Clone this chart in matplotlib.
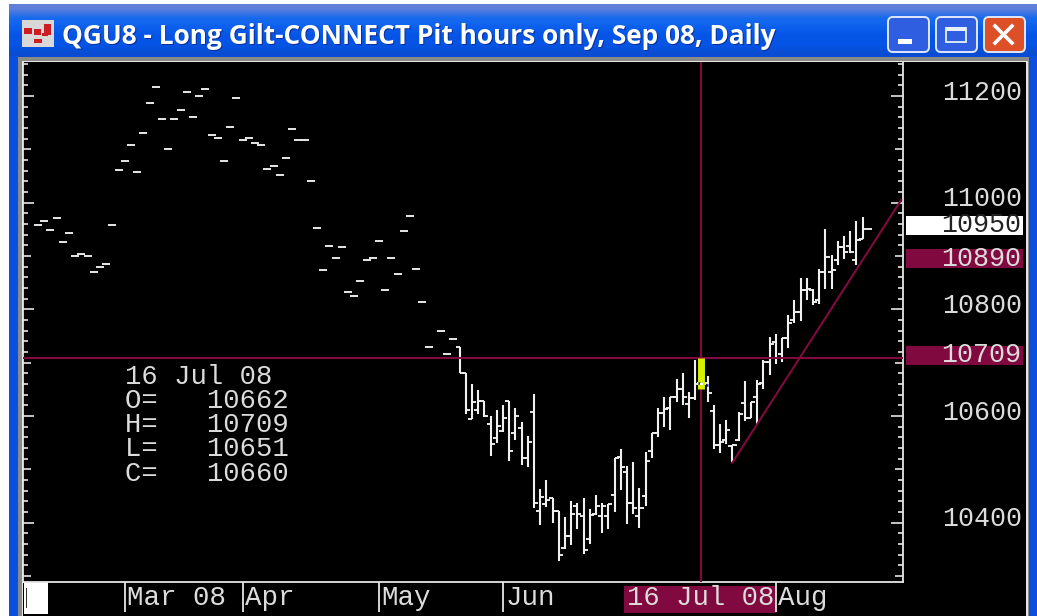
import numpy as np
import matplotlib
matplotlib.use("Agg")
import matplotlib.pyplot as plt
from matplotlib.patches import Rectangle, FancyBboxPatch
from matplotlib.ticker import FixedLocator

# ---------- data ----------
nan = float("nan")
flat_prices = [10959, 10966, 10949, 10972, 10926, 10943, 10900, 10903, 10900, 10870,
               10880, 10886, 10959, 11061, 11078, 11108, 11058, 11131, 11187, 11217,
               11157, 11101, 11157, 11174, 11207, 11161, 11200, 11214, 11127, 11121,
               11078, 11141, 11197, 11117, 11121, 11111, 11108, 11064, 11068, 11051,
               11084, 11138, 11117, 11117, 11041, 10952, 10873, 10919, 10896, 10916,
               10833, 10826, 10853, 10893, 10896, 10929, 10836, 10896, 10866, 10946,
               10975, 10876, 10813, 10730, nan, 10760, 10717, 10744]
opens = [10730, 10680, 10594, 10611, 10628, 10585, 10558, 10572, 10628, 10568,
         10578, 10521, 10607, 10423, 10435, 10446, 10423, 10352, 10376, 10431,
         10413, 10369, 10416, 10413, 10413, 10452, 10524, 10496, 10437, 10413,
         10451, 10535, 10568, 10606, 10615, 10636, 10650, 10623, 10633, 10662,
         10662, 10610, 10546, 10555, 10543, 10555, 10624, 10597, 10636, 10662,
         10702, 10738, 10716, 10746, 10780, 10796, 10836, 10836, 10817, 10871,
         10871, 10893, 10916, 10919, 10893, 10931]
highs = [10730, 10680, 10661, 10649, 10628, 10601, 10611, 10621, 10628, 10616,
         10588, 10563, 10641, 10463, 10480, 10446, 10423, 10410, 10440, 10438,
         10447, 10426, 10453, 10438, 10436, 10522, 10538, 10506, 10513, 10466,
         10533, 10569, 10615, 10635, 10636, 10669, 10681, 10646, 10706, 10709,
         10675, 10621, 10585, 10593, 10546, 10608, 10665, 10627, 10668, 10705,
         10748, 10754, 10746, 10790, 10818, 10859, 10859, 10839, 10875, 10950,
         10902, 10929, 10938, 10946, 10966, 10974]
lows = [10680, 10604, 10594, 10604, 10598, 10525, 10550, 10571, 10515, 10556,
        10508, 10505, 10428, 10395, 10429, 10399, 10329, 10350, 10358, 10388,
        10341, 10361, 10415, 10380, 10388, 10421, 10461, 10398, 10416, 10391,
        10432, 10521, 10561, 10579, 10574, 10627, 10621, 10596, 10630, 10651,
        10627, 10538, 10530, 10548, 10513, 10554, 10591, 10596, 10586, 10650,
        10677, 10698, 10702, 10727, 10774, 10779, 10818, 10808, 10811, 10838,
        10838, 10883, 10894, 10905, 10883, 10931]
closes = [10680, 10612, 10627, 10628, 10600, 10548, 10581, 10596, 10535, 10601,
          10521, 10552, 10438, 10449, 10443, 10423, 10340, 10376, 10416, 10416,
          10349, 10415, 10432, 10432, 10436, 10521, 10504, 10437, 10427, 10427,
          10516, 10569, 10605, 10613, 10636, 10650, 10636, 10633, 10661, 10660,
          10644, 10546, 10551, 10574, 10546, 10604, 10596, 10627, 10661, 10702,
          10736, 10708, 10746, 10774, 10796, 10836, 10838, 10814, 10871, 10899,
          10873, 10916, 10908, 10908, 10930, 10950]
price_labels = [11200, 11000, 10800, 10600, 10400]
tag_labels = [10950, 10890, 10709]
month_index = [14, 33, 55, 75, 119]
month_names = ["Mar 08", "Apr", "May", "Jun", "Aug"]
cursor_index = 107
cursor_price = 10709
cursor_date = "16 Jul 08"
cursor_rows = ["O=   10662", "H=   10709", "L=   10651", "C=   10660"]
trend_x = [112, 139.2]
trend_y = [10513, 11005]
title = "QGU8 - Long Gilt-CONNECT Pit hours only, Sep 08, Daily"

# ---------- figure and window chrome (pixel coordinates) ----------
W, H = 1037, 616
MAROON = "#800a40"
TXT = "#dcdcdc"
MONO = "Liberation Mono"
fig = plt.figure(figsize=(W / 100, H / 100), dpi=100, facecolor="white")
bg = fig.add_axes([0, 0, 1, 1], zorder=0)
bg.set_xlim(0, W)
bg.set_ylim(H, 0)
bg.axis("off")

grad = np.array([[0.38, 0.50, 0.85], [0.10, 0.42, 0.93], [0.05, 0.38, 0.93], [0.02, 0.33, 0.90],
                 [0.02, 0.33, 0.90], [0.04, 0.30, 0.82]])[:, None, :]
bg.imshow(grad, extent=(9, W, 58, 4), aspect="auto", interpolation="bilinear", zorder=1)
bg.set_xlim(0, W)
bg.set_ylim(H, 0)
bg.add_patch(Rectangle((9, 56), 9, H - 56, fc="#0a4fe0", ec="none", zorder=1))
bg.add_patch(Rectangle((1029, 56), 8, H - 56, fc="#0a4fe0", ec="none", zorder=1))
bg.add_patch(Rectangle((18, 57), 1011, H - 57, fc="#8a8a86", ec="none", zorder=1))
bg.add_patch(Rectangle((22, 61), 1006, H - 61, fc="#e6e6e6", ec="none", zorder=1))
bg.add_patch(Rectangle((23, 62), 1003, H - 62, fc="black", ec="none", zorder=2))

# icon
bg.add_patch(Rectangle((22, 20), 32, 27, fc="#d8d8d8", ec="none", zorder=3))
for (x0, y0, w0, h0) in [(24, 28, 8, 6), (34, 29, 7, 6), (44, 24, 7, 11), (34, 39, 8, 4), (42, 33, 6, 3)]:
    bg.add_patch(Rectangle((x0, y0), w0, h0, fc="#cc1d22", ec="none", zorder=4))

# title
bg.text(63, 37.5, title, color="#0a2f9a", fontsize=18.9, fontweight="bold", family="Open Sans",
        va="center", ha="left", zorder=4)
bg.text(62, 36.5, title, color="white", fontsize=18.9, fontweight="bold", family="Open Sans",
        va="center", ha="left", zorder=5)

# window buttons
for x0, col in [(887, "#2f5fe0"), (935, "#2f5fe0"), (983, "#dd4f26")]:
    bg.add_patch(FancyBboxPatch((x0 + 1, 17), 41, 35, boxstyle="round,pad=0,rounding_size=5",
                                fc=col, ec="#dfe8fb", lw=1.4, zorder=4))
bg.add_patch(Rectangle((898, 39), 14, 5, fc="white", ec="none", zorder=5))
bg.add_patch(Rectangle((946, 28), 20, 14, fc="none", ec="#e8f0ff", lw=1.3, zorder=5))
bg.add_patch(Rectangle((946, 27), 20, 3.5, fc="#e8f0ff", ec="none", zorder=5))
bg.plot([995, 1012], [26, 43], color="white", lw=2.6, zorder=5)
bg.plot([995, 1012], [43, 26], color="white", lw=2.6, zorder=5)

# price tags
for y0, col in [(216, "white"), (249, MAROON), (346, MAROON)]:
    bg.add_patch(Rectangle((906, y0), 117, 19, fc=col, ec="none", zorder=3))
# date strip
bg.add_patch(Rectangle((624, 586), 152, 27, fc=MAROON, ec="none", zorder=3))
bg.add_patch(Rectangle((24, 582), 24, 32, fc="white", ec="none", zorder=3))
bg.add_patch(Rectangle((25.5, 588), 1.6, 20, fc="#333333", ec="none", zorder=4))

# ---------- chart ----------
ax = fig.add_axes([23 / W, 1 - 582 / H, 880 / W, 520 / H], zorder=2)
ax.patch.set_alpha(0)
ax.set_xlim(-2.42, 139.5)
ax.set_ylim(10289, 11263.7)
for s in ax.spines.values():
    s.set_color("#e6e6e6")
    s.set_linewidth(1.3)
ax.spines["top"].set_visible(False)

ax.yaxis.set_major_locator(FixedLocator(np.arange(10300, 11300, 100)))
ax.yaxis.set_minor_locator(FixedLocator(np.arange(10300, 11270, 20)))
ax.tick_params(axis="y", which="both", left=True, right=True, direction="in",
               labelleft=False, labelright=False, color="#e6e6e6", width=1.2)
ax.tick_params(axis="y", which="minor", length=3.8)
ax.tick_params(axis="y", which="major", length=6)
for t, v in zip(ax.yaxis.get_major_ticks(), ax.yaxis.get_majorticklocs()):
    if int(v) % 200 == 0:
        t.tick1line.set_markersize(8)
        t.tick2line.set_markersize(8.5)

ax.set_xticks(month_index)
ax.set_xticklabels([""] * len(month_index))
ax.tick_params(axis="x", direction="out", length=21.5, width=1.3, color="#e6e6e6", pad=0)

n_flat = len(flat_prices)
xs_flat = np.arange(n_flat)
BAR = "#f0f0f0"
ax.hlines(flat_prices, xs_flat - 0.65, xs_flat + 0.65, color=BAR, lw=1.35, zorder=3)

xs = np.arange(n_flat, n_flat + len(opens))
ax.vlines(xs, lows, highs, color=BAR, lw=1.5, zorder=3)
ax.hlines(opens, xs - 0.65, xs, color=BAR, lw=1.35, zorder=3)
close_right = xs + 0.65
close_right[-1] = xs[-1] + 1.5
ax.hlines(closes, xs, close_right, color=BAR, lw=1.35, zorder=3)

# cursor and trend line
ax.axvline(cursor_index, color=MAROON, lw=1.5, zorder=4)
ax.axhline(cursor_price, color=MAROON, lw=1.5, zorder=4)
ax.plot(trend_x, trend_y, color=MAROON, lw=1.5, zorder=4)

# highlighted bar
i = cursor_index - n_flat
ax.vlines(cursor_index, lows[i], highs[i], color="#d6ee00", lw=5, zorder=5)
ax.hlines(opens[i], cursor_index - 0.6, cursor_index - 0.2, color="#1020d0", lw=1.8, zorder=6)
ax.hlines(closes[i] - 2, cursor_index + 0.7, cursor_index + 1.05, color="#1020d0", lw=1.8, zorder=6)
ax.hlines(closes[i], cursor_index - 0.2, cursor_index + 0.3, color="white", lw=1.5, zorder=6)

# price labels
ytrans = ax.get_yaxis_transform()
for v in price_labels:
    ax.annotate(str(v), xy=(1, v), xycoords=ytrans, xytext=(85.5, 2.5), textcoords="offset points",
                ha="right", va="center", color=TXT, fontsize=19.2, family=MONO, annotation_clip=False)
for v, col, yp in zip(tag_labels, ["#222222", TXT, TXT], [225, 258.5, 355.5]):
    bg.text(1021, yp, str(v), color=col, fontsize=19.2, family=MONO, ha="right", va="center", zorder=6)

# month labels
xtrans = ax.get_xaxis_transform()
for v, name in zip(month_index, month_names):
    ax.annotate(name, xy=(v, 0), xycoords=xtrans, xytext=(1.5, -11.5), textcoords="offset points",
                ha="left", va="center", color=TXT, fontsize=19.8, family=MONO, annotation_clip=False)
bg.text(627, 598, cursor_date, color=TXT, fontsize=19.6, family=MONO, ha="left", va="center", zorder=6)

# cursor read-out
rows = [cursor_date] + cursor_rows
for yp, row in zip([377, 401, 425, 449, 474], rows):
    bg.text(125, yp, row, color=TXT, fontsize=19.6, family=MONO, ha="left", va="center", zorder=6)

fig.savefig("out.png", dpi=100, facecolor="white")
